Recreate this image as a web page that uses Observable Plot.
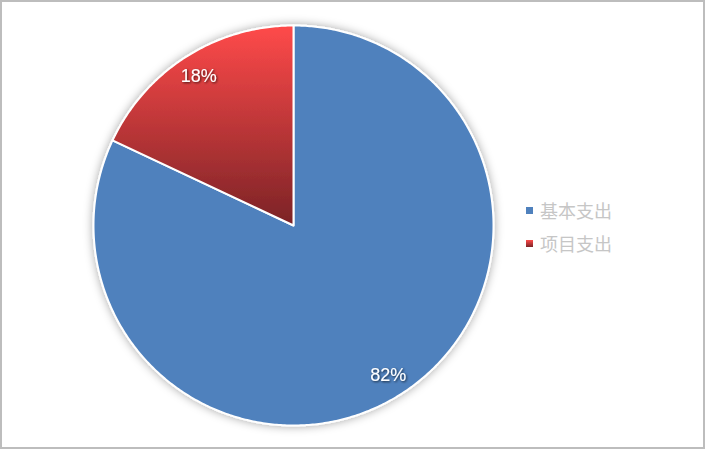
<!DOCTYPE html>
<html>
<head>
<meta charset="utf-8">
<script src="https://cdn.jsdelivr.net/npm/d3@7"></script>
<script src="https://cdn.jsdelivr.net/npm/@observablehq/plot@0.6"></script>
<style>
  html, body { margin: 0; padding: 0; background: #fff; }
  #wrap { position: relative; width: 705px; height: 449px; overflow: hidden; background: #fff; }
  #border { position: absolute; left: 0; top: 0; width: 705px; height: 449px; box-sizing: border-box; border: 2px solid #bdbdbd; pointer-events: none; }
  #chart { position: absolute; left: 0; top: 0; }
  #legend { position: absolute; left: 526px; top: 193px; font-family: "Noto Sans CJK SC", sans-serif; font-size: 18px; color: #c6c6c6; }
  .item { display: flex; align-items: center; height: 33px; }
  .sw { width: 7px; height: 7px; margin-right: 7px; margin-top: 1px; }
</style>
</head>
<body>
<div id="wrap">
  <div id="chart"></div>
  <div id="legend"></div>
  <div id="border"></div>
</div>
<script>
// Data
const categories = ["基本支出", "项目支出"];
const values = [82, 18];
const labels = ["82%", "18%"];
const swatchColors = ["#4f81bd", "linear-gradient(#ff4a4a, #7b2326)"];
const sliceFills = ["#4f81bd", "url(#redGrad)"];

const arcs = d3.pie().sort(null).value(d => d)(values);

// polygon points for each slice (unit circle, angle clockwise from top)
const pts = [];
arcs.forEach((a, i) => {
  const n = Math.max(2, Math.ceil((a.endAngle - a.startAngle) / 0.01));
  pts.push({cat: categories[i], x: 0, y: 0});
  for (let k = 0; k <= n; k++) {
    const t = a.startAngle + (a.endAngle - a.startAngle) * k / n;
    pts.push({cat: categories[i], x: Math.sin(t), y: Math.cos(t)});
  }
});
const labelPts = arcs.map((a, i) => {
  const m = (a.startAngle + a.endAngle) / 2;
  return {label: labels[i], x: 0.885 * Math.sin(m), y: 0.885 * Math.cos(m)};
});

const chart = Plot.plot({
  width: 705,
  height: 449,
  margin: 0,
  x: {domain: [-1, 1], range: [93, 493], axis: null},
  y: {domain: [-1, 1], range: [425, 25], axis: null},
  color: {domain: categories, range: sliceFills},
  marks: [
    Plot.line(pts, {x: "x", y: "y", z: "cat", fill: "cat", stroke: "#fff", strokeWidth: 2, curve: "linear-closed", strokeLinejoin: "round"}),
    Plot.text(labelPts, {x: "x", y: "y", text: "label", fill: "#fff", fontSize: 18, fontFamily: "Liberation Sans, Arial, sans-serif"})
  ]
});

// defs: gradient + shadows
const svg = d3.select(chart);
const defs = svg.insert("defs", ":first-child");
const g = defs.append("linearGradient").attr("id", "redGrad").attr("x1", 0).attr("y1", 0).attr("x2", 0).attr("y2", 1);
g.append("stop").attr("offset", "0%").attr("stop-color", "#ff4a4a");
g.append("stop").attr("offset", "100%").attr("stop-color", "#7b2326");
const f = defs.append("filter").attr("id", "pieShadow").attr("x", "-20%").attr("y", "-20%").attr("width", "140%").attr("height", "140%");
f.append("feDropShadow").attr("dx", 0).attr("dy", 0).attr("stdDeviation", 5).attr("flood-color", "#000").attr("flood-opacity", 0.35);
const ft = defs.append("filter").attr("id", "textShadow").attr("x", "-20%").attr("y", "-30%").attr("width", "150%").attr("height", "170%");
ft.append("feDropShadow").attr("dx", 1).attr("dy", 1).attr("stdDeviation", 0.9).attr("flood-color", "#000").attr("flood-opacity", 0.7);
svg.select('g[aria-label="line"]').attr("filter", "url(#pieShadow)");
svg.select('g[aria-label="text"]').attr("filter", "url(#textShadow)");

document.getElementById("chart").appendChild(chart);

// legend
const leg = document.getElementById("legend");
categories.forEach((c, i) => {
  const it = document.createElement("div"); it.className = "item";
  const sw = document.createElement("div"); sw.className = "sw"; sw.style.background = swatchColors[i];
  const tx = document.createElement("span"); tx.textContent = c;
  it.appendChild(sw); it.appendChild(tx); leg.appendChild(it);
});
</script>
</body>
</html>
